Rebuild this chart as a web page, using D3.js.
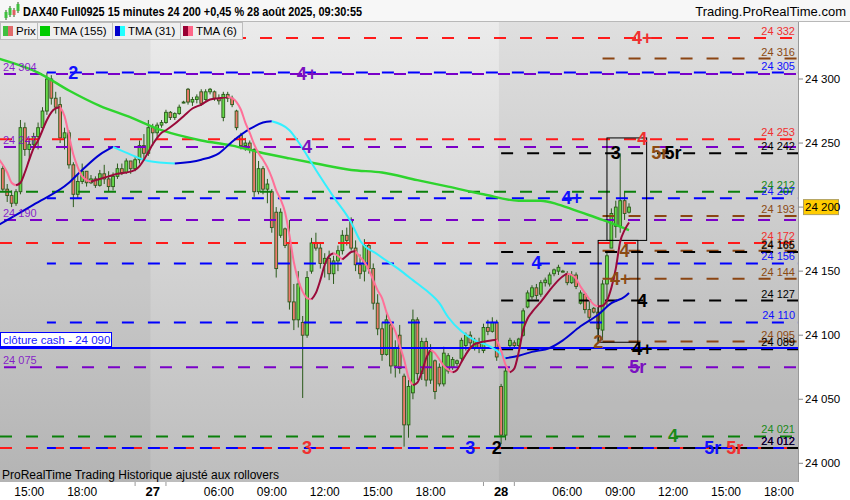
<!DOCTYPE html>
<html><head><meta charset="utf-8">
<script src="https://cdn.jsdelivr.net/npm/d3@7"></script>
<style>
body{margin:0;background:#fff;}
svg{font-family:"Liberation Sans",Arial,sans-serif;}
</style>
</head><body>
<svg id="c" width="850" height="500"></svg>
<script>
// ---------------- DATA ----------------
const sessions = [
  {day: 26, first: "13:30", bars: 34},
  {day: 27, first: "02:15", bars: 79},
  {day: 28, first: "02:15", bars: 30}
];
const openP = [
 24230,24214,24209,24203,24212,24262,24245,24249,24255,24262,24275,24300,24285,24280,24254,24258,24233,24210,24220,24228,24219,24222,24217,24226,24222,24216,24224,24230,24227,24236,24230,24237,24248,24242,
 24262,24258,24264,24266,24274,24270,24273,24282,24292,24282,24284,24290,24284,24290,24290,24285,24270,24288,24285,24275,24256,24248,24250,24245,24212,24230,24214,24212,24196,24178,24183,24172,24126,24112,24110,24100,24150,24172,24168,24156,24160,24148,24158,24166,24178,24190,24168,24155,24150,24170,24152,24125,24105,24085,24108,24076,24100,24068,24030,24055,24112,24070,24095,24065,24080,24075,24062,24072,24075,24078,24082,24092,24100,24090,24094,24088,24106,24103,24110,
 24060,24022,24092,24094,24092,24100,24122,24130,24137,24132,24141,24140,24148,24150,24150,24148,24141,24147,24125,24132,24120,24121,24118,24104,24140,24168,24185,24185,24205,24196];
const highP = [
 24232,24218,24213,24214,24268,24266,24252,24258,24266,24278,24305,24303,24290,24286,24262,24260,24235,24225,24234,24228,24225,24224,24229,24233,24228,24227,24234,24234,24238,24236,24239,24252,24257,24268,
 24265,24266,24268,24276,24275,24274,24280,24283,24293,24286,24288,24292,24292,24293,24291,24288,24290,24290,24287,24276,24258,24254,24252,24246,24236,24232,24222,24214,24200,24199,24184,24190,24140,24150,24115,24150,24176,24180,24172,24164,24166,24162,24170,24182,24184,24192,24174,24163,24175,24172,24156,24132,24110,24118,24109,24096,24108,24070,24065,24120,24114,24098,24098,24093,24081,24078,24091,24086,24083,24081,24098,24102,24103,24098,24098,24109,24112,24114,24112,
 24062,24075,24098,24096,24098,24121,24135,24139,24140,24143,24145,24149,24152,24155,24151,24150,24150,24149,24135,24133,24126,24122,24123,24143,24166,24199,24205,24242,24212,24203];
const lowP = [
 24212,24204,24200,24201,24210,24240,24236,24246,24245,24260,24272,24280,24273,24250,24245,24230,24200,24207,24218,24216,24218,24215,24216,24218,24212,24213,24222,24225,24226,24226,24228,24234,24236,24240,
 24248,24254,24262,24265,24268,24268,24272,24281,24280,24279,24281,24279,24283,24288,24283,24280,24267,24282,24278,24260,24245,24244,24242,24208,24210,24210,24203,24180,24145,24176,24168,24120,24104,24106,24051,24098,24148,24166,24152,24145,24143,24140,24150,24163,24170,24166,24150,24144,24142,24148,24120,24100,24080,24084,24070,24067,24070,24013,24020,24050,24065,24065,24060,24062,24050,24060,24060,24070,24073,24076,24080,24088,24090,24088,24086,24086,24100,24102,24080,
 24015,24018,24090,24090,24091,24099,24121,24128,24128,24130,24138,24138,24146,24147,24149,24139,24140,24136,24124,24117,24110,24117,24095,24096,24122,24168,24176,24180,24190,24195];
const closeP = [
 24214,24209,24203,24212,24262,24245,24249,24255,24262,24275,24300,24285,24278,24254,24258,24233,24210,24220,24228,24219,24222,24217,24226,24222,24216,24224,24230,24227,24236,24230,24237,24248,24242,24262,
 24258,24264,24266,24274,24270,24273,24278,24282,24282,24284,24286,24281,24290,24292,24285,24283,24288,24285,24280,24262,24248,24250,24245,24212,24230,24214,24218,24184,24152,24196,24170,24126,24112,24140,24100,24145,24172,24168,24156,24160,24148,24158,24166,24178,24174,24168,24155,24148,24170,24152,24125,24105,24085,24112,24076,24090,24074,24030,24060,24112,24070,24095,24065,24088,24056,24062,24086,24084,24081,24080,24096,24100,24094,24096,24090,24106,24103,24110,24083,
 24022,24072,24096,24092,24097,24119,24133,24137,24131,24141,24143,24147,24151,24153,24150,24141,24147,24138,24133,24120,24114,24118,24105,24140,24162,24195,24200,24205,24195,24200];

const tma155 = [["26 13:15",24316],["26 15:30",24305],["26 17:15",24291],["26 19:00",24279],["26 20:45",24270],["27 02:45",24260],["27 05:00",24252],["27 06:45",24248],["27 08:15",24243],["27 10:00",24238],["27 11:30",24234],["27 13:30",24229],["27 15:15",24227],["27 17:15",24221],["27 19:00",24216],["27 21:00",24210],["28 03:15",24205],["28 04:30",24205],["28 05:30",24202],["28 06:45",24196],["28 08:00",24190],["28 09:30",24182]];
const tma31 = [["26 13:15",24186],["26 15:15",24202],["26 17:15",24219],["26 18:00",24229],["26 19:00",24241],["26 19:45",24247],["26 20:45",24241],["26 21:45",24236],["27 03:30",24234],["27 05:00",24237],["27 06:00",24242],["27 06:45",24251],["27 07:45",24261],["27 08:30",24266],["27 09:00",24267],["27 10:00",24260],["27 10:30",24251],["27 11:30",24229],["27 12:30",24208],["27 13:30",24188],["27 14:00",24174],["27 15:00",24163],["27 16:15",24151],["27 17:00",24143],["27 17:45",24135],["27 18:30",24125],["27 19:00",24114],["27 19:45",24103],["27 20:30",24096],["27 21:15",24092],["27 21:45",24088],["28 02:30",24082],["28 03:15",24084],["28 04:00",24087],["28 05:00",24090],["28 05:45",24096],["28 06:45",24107],["28 07:45",24116],["28 08:30",24125],["28 09:15",24130],["28 09:30",24133]];
const tma6 = [["26 13:15",24238],["26 13:30",24233],["26 13:45",24227],["26 14:00",24219],["26 14:15",24217],["26 14:30",24219],["26 14:45",24227],["26 15:00",24237],["26 15:15",24246],["26 15:30",24252],["26 15:45",24260],["26 16:00",24268],["26 16:15",24274],["26 16:30",24277],["26 16:45",24278],["26 17:00",24271],["26 17:15",24256],["26 17:30",24241],["26 17:45",24231],["26 18:00",24224],["26 18:15",24221],["26 18:30",24220],["26 18:45",24221],["26 19:00",24222],["26 19:30",24224],["26 20:00",24226],["26 20:30",24227],["26 21:00",24229],["26 21:15",24232],["26 21:30",24237],["26 21:45",24243],["27 02:15",24249],["27 02:30",24254],["27 02:45",24258],["27 03:00",24260],["27 03:30",24265],["27 04:00",24271],["27 04:30",24277],["27 05:00",24280],["27 05:30",24284],["27 06:00",24285],["27 06:30",24286],["27 06:45",24285],["27 07:00",24282],["27 07:15",24276],["27 07:30",24266],["27 07:45",24258],["27 08:00",24249],["27 08:15",24242],["27 08:30",24237],["27 08:45",24231],["27 09:00",24223],["27 09:15",24213],["27 09:30",24206],["27 09:45",24196],["27 10:00",24178],["27 10:15",24157],["27 10:30",24143],["27 10:45",24134],["27 11:00",24129],["27 11:15",24128],["27 11:30",24133],["27 11:45",24143],["27 12:00",24155],["27 12:15",24162],["27 12:30",24164],["27 12:45",24162],["27 13:00",24159],["27 13:15",24162],["27 13:30",24165],["27 13:45",24165.5],["27 14:00",24161],["27 14:15",24157],["27 14:30",24151],["27 14:45",24143],["27 15:00",24135],["27 15:15",24129],["27 15:30",24118],["27 15:45",24110],["27 16:00",24103],["27 16:15",24092],["27 16:30",24081],["27 16:45",24067],["27 17:00",24061],["27 17:15",24063],["27 17:30",24071],["27 17:45",24082],["27 18:00",24088.5],["27 18:15",24086],["27 18:30",24081],["27 18:45",24076],["27 19:00",24073],["27 19:15",24071],["27 19:30",24073],["27 19:45",24079],["27 20:00",24085],["27 20:15",24090],["27 20:30",24093],["27 21:00",24095],["27 21:30",24096],["27 21:45",24096.5],["28 02:15",24088],["28 02:30",24077],["28 02:45",24071],["28 03:00",24074],["28 03:15",24087],["28 03:30",24104],["28 03:45",24113],["28 04:00",24118],["28 04:30",24126],["28 05:00",24135],["28 05:30",24143],["28 05:45",24146],["28 06:00",24148],["28 06:15",24147],["28 06:30",24144],["28 06:45",24138],["28 07:00",24133],["28 07:15",24128],["28 07:30",24124],["28 07:45",24122.5],["28 08:00",24123],["28 08:15",24127],["28 08:30",24137],["28 08:45",24152],["28 09:00",24173],["28 09:15",24182],["28 09:30",24188]];

// pivot level sets (value lists) and when each set begins (null = before chart start)
const redLevels    = [24332, 24253, 24172, 24012];
const purpleLevels = [24304, 24247, 24190, 24075];
const blueLevels   = [24305, 24207, 24156, 24110, 24012];
const greenLevels  = [24212, 24021];
const brownLevels  = [24316, 24193, 24166, 24144, 24095];
const blackLevels  = [24242, 24165, 24127, 24089, 24012];
const levelSets = ["red","purple","blue","green","brown","black"];
const levelStart = {red: null, purple: null, blue: "26 16:00", green: null, brown: "28 08:00", black: "28 02:15"};
const cashClose = 24090;

// level tags: [set, level, text, time]
const tags = [
 ["blue",24305,"2","26 17:30"],["purple",24304,"4+","27 11:00"],["red",24332,"4+","28 10:15"],
 ["purple",24247,"4","27 11:00"],["red",24253,"4","28 10:15"],["black",24242,"3","28 08:45"],
 ["brown",24242,"5r","28 11:15"],["black",24242,"5r","28 12:00"],["blue",24207,"4+","28 06:15"],
 ["brown",24166,"4","28 09:15"],["blue",24156,"4","28 04:15"],["brown",24144,"4+","28 09:00"],
 ["black",24127,"4","28 10:15"],["brown",24095,"2","28 07:45"],["black",24089,"4+","28 10:15"],
 ["purple",24075,"5r","28 10:00"],["green",24021,"4","28 12:00"],["red",24012,"3","27 11:00"],
 ["blue",24012,"3","27 20:15"],["black",24012,"2","27 21:45"],["blue",24012,"5r","28 14:15"],
 ["red",24012,"5r","28 15:30"]
];
const boxes = [
 {from:"28 08:15", to:"28 10:30", hi:24254, lo:24174},
 {from:"28 07:45", to:"28 10:00", hi:24174, lo:24094.5}
];
const yTicks = [24000, 24050, 24100, 24150, 24200, 24250, 24300];
const lastPrice = 24200;
const xTickTimes  = ["26 15:00","26 18:00","27 02:15","27 06:00","27 09:00","27 12:00","27 15:00","27 18:00","28 02:15","28 06:00","28 09:00","28 12:00","28 15:00","28 18:00"];
const xTickLabels = ["15:00","18:00","27","06:00","09:00","12:00","15:00","18:00","28","06:00","09:00","12:00","15:00","18:00"];
const minorTickTimes = ["26 21:00","27 03:00","27 21:00","28 03:00"];

// ---------------- HELPERS ----------------
const toMin = s => { const [h,m] = s.split(":").map(Number); return h*60+m; };
let acc = 0; const sessStart = {};
sessions.forEach(s => { sessStart[s.day] = {offset: acc, first: toMin(s.first), bars: s.bars}; acc += s.bars; });
const barIndex = str => { const [d, hm] = str.split(" "); const s = sessStart[+d]; return s.offset + (toMin(hm) - s.first)/15; };

const bars = openP.map((o,i) => ({i, o, h: highP[i], l: lowP[i], c: closeP[i]}));
const fr = d3.formatLocale({decimal:",", thousands:" ", grouping:[3], currency:["","€"]}).format(",d");

const W = 850, H = 500;
const P = {l: 0, r: 798, t: 22, b: 482};
const x = d3.scaleLinear().domain([-0.635, 180.32]).range([P.l, P.r]);
const y = d3.scaleLinear().domain([24000, 24300]).range([463.3, 79]);

const colors = {red:"#ff1a1a", purple:"#7a00c8", blue:"#0000ff", green:"#0a800a", brown:"#8b4513", black:"#000000"};
const tagColors = {red:"#f03030", purple:"#7a10c0", blue:"#1010ff", green:"#1a8a1a", brown:"#8b4a13", black:"#000000"};
const levelsBySet = {red: redLevels, purple: purpleLevels, blue: blueLevels, green: greenLevels, brown: brownLevels, black: blackLevels};

const svg = d3.select("#c");
const defs = svg.append("defs");
const grad = defs.append("linearGradient").attr("id","bg").attr("x1",0).attr("y1",0).attr("x2",0).attr("y2",1);
grad.append("stop").attr("offset","0%").attr("stop-color","#ebebeb");
grad.append("stop").attr("offset","100%").attr("stop-color","#bdbdbd");
defs.append("clipPath").attr("id","clip").append("rect").attr("x",P.l).attr("y",P.t).attr("width",P.r-P.l).attr("height",P.b-P.t);

// background
svg.append("rect").attr("width",W).attr("height",H).attr("fill","#fff");
svg.append("rect").attr("x",P.l).attr("y",P.t).attr("width",P.r-P.l).attr("height",P.b-P.t).attr("fill","url(#bg)");
const g0 = svg.append("g").attr("clip-path","url(#clip)");
const day27s = x(sessStart[27].offset - 0.5), day28s = x(sessStart[28].offset - 0.5);
g0.append("rect").attr("x",P.l).attr("y",P.t).attr("width",day27s-P.l).attr("height",P.b-P.t).attr("fill","rgba(0,0,0,0.045)");
g0.append("rect").attr("x",day28s).attr("y",P.t).attr("width",P.r-day28s).attr("height",P.b-P.t).attr("fill","rgba(0,0,0,0.05)");

const plot = svg.append("g").attr("clip-path","url(#clip)");

// candles
const cg = plot.append("g");
cg.selectAll("line.w").data(bars).join("line")
  .attr("x1",d=>x(d.i)).attr("x2",d=>x(d.i)).attr("y1",d=>y(d.h)).attr("y2",d=>y(d.l))
  .attr("stroke","#2b5a1b").attr("stroke-width",1);
cg.selectAll("rect.b").data(bars).join("rect")
  .attr("x",d=>x(d.i)-1.4).attr("width",2.8)
  .attr("y",d=>y(Math.max(d.o,d.c))).attr("height",d=>Math.max(1,Math.abs(y(d.o)-y(d.c))))
  .attr("fill",d=>d.c>=d.o?"#66d94a":"#ee7a6c").attr("stroke","#2b5a1b").attr("stroke-width",0.9);

// levels
const lg = plot.append("g");
levelSets.forEach(set => {
  const st = levelStart[set];
  const x0 = st ? x(barIndex(st)) : P.l;
  levelsBySet[set].forEach(v => {
    lg.append("line").attr("x1",x0).attr("x2",P.r).attr("y1",y(v)).attr("y2",y(v))
      .attr("stroke",colors[set]).attr("stroke-width",2).attr("stroke-dasharray","12,14")
      .attr("stroke-dashoffset", set==="purple"? -4 : set==="blue" ? 3 : 0);
  });
});
lg.append("line").attr("x1",P.l).attr("x2",P.r).attr("y1",y(cashClose)).attr("y2",y(cashClose))
  .attr("stroke","#0000ff").attr("stroke-width",2);

// boxes
plot.selectAll("rect.box").data(boxes).join("rect")
  .attr("x",d=>x(barIndex(d.from))).attr("width",d=>x(barIndex(d.to))-x(barIndex(d.from)))
  .attr("y",d=>y(d.hi)).attr("height",d=>y(d.lo)-y(d.hi))
  .attr("fill","none").attr("stroke","#000").attr("stroke-width",1);

// TMA lines, coloured by slope
function drawTrend(pts, upColor, downColor, w) {
  const p = pts.map(([t,v]) => [barIndex(t), v]);
  const runs = []; let cur = [p[0]]; let dir = 0;
  for (let k=1;k<p.length;k++){
    const d = Math.sign(p[k][1]-p[k-1][1]) || dir || 1;
    if (dir !== 0 && d !== dir) { runs.push({dir, pts: cur}); cur = [p[k-1]]; }
    dir = d; cur.push(p[k]);
  }
  runs.push({dir, pts: cur});
  const line = d3.line().x(d=>x(d[0])).y(d=>y(d[1])).curve(d3.curveMonotoneX);
  runs.forEach(r => plot.append("path").attr("d", line(r.pts)).attr("fill","none")
    .attr("stroke", r.dir>0 ? upColor : downColor).attr("stroke-width",w).attr("stroke-linejoin","round"));
}
drawTrend(tma155, "#2ed42e", "#2ed42e", 2.4);
drawTrend(tma31, "#0000d0", "#33f0ff", 2);
drawTrend(tma6, "#9a0a3a", "#ff7098", 2);

// tags
const tg = svg.append("g").attr("clip-path","url(#clip)");
tg.selectAll("text").data(tags).join("text")
  .attr("x",d=>x(barIndex(d[3]))).attr("y",d=>y(d[1]))
  .attr("text-anchor","middle").attr("dominant-baseline","central")
  .attr("font-size",18).attr("font-weight","bold").attr("fill",d=>tagColors[d[0]]).text(d=>d[2]);

// value labels
const vg = svg.append("g");
levelSets.forEach(set => {
  levelsBySet[set].forEach(v => {
    if (set === "purple") {
      vg.append("text").attr("x",3).attr("y",y(v)-3).attr("font-size",11)
        .attr("fill",colors.purple).attr("fill-opacity",0.85).text(fr(v));
    } else {
      vg.append("text").attr("x",795).attr("y",y(v)-3).attr("text-anchor","end").attr("font-size",11)
        .attr("fill",tagColors[set]).text(fr(v));
    }
  });
});
vg.append("rect").attr("x",0.5).attr("y",y(cashClose)-15.5).attr("width",111).attr("height",14)
  .attr("fill","#fff").attr("stroke","#0000ff").attr("stroke-width",1);
vg.append("text").attr("x",3).attr("y",y(cashClose)-4.5).attr("font-size",11.5).attr("fill","#2020ff")
  .text("clôture cash -  " + fr(cashClose));

// right axis
svg.append("line").attr("x1",P.r+0.5).attr("x2",P.r+0.5).attr("y1",P.t).attr("y2",P.b).attr("stroke","#999");
const ya = svg.append("g");
yTicks.forEach(v => {
  ya.append("line").attr("x1",P.r).attr("x2",P.r+5).attr("y1",y(v)).attr("y2",y(v)).attr("stroke","#888");
  ya.append("text").attr("x",805).attr("y",y(v)).attr("dominant-baseline","central").attr("font-size",11.5)
    .attr("fill","#000").text(fr(v));
});
ya.append("rect").attr("x",803.5).attr("y",y(lastPrice)-7.5).attr("width",35).attr("height",15)
  .attr("fill","#ffcc00").attr("stroke","#b0a060");
ya.append("text").attr("x",805).attr("y",y(lastPrice)).attr("dominant-baseline","central").attr("font-size",11.5)
  .attr("fill","#000").text(fr(lastPrice));

// x axis
const xa = svg.append("g");
xTickTimes.forEach((t,k) => {
  const lab = xTickLabels[k]; const isDay = !lab.includes(":");
  xa.append("text").attr("x",x(barIndex(t))).attr("y",496).attr("text-anchor","middle")
    .attr("font-family","'Liberation Sans Narrow','Arial Narrow',sans-serif")
    .attr("font-size", isDay?13:12).attr("font-weight", isDay?"bold":"normal").attr("fill","#000").text(lab);
});
minorTickTimes.forEach(t => {
  xa.append("line").attr("x1",x(barIndex(t))).attr("x2",x(barIndex(t))).attr("y1",P.b).attr("y2",P.b+4).attr("stroke","#999");
});
svg.append("text").attr("x",2).attr("y",479).attr("font-size",12)
  .attr("font-family","'Liberation Sans Narrow','Arial Narrow',sans-serif").attr("fill","#000")
  .text("ProRealTime Trading  Historique ajusté aux rollovers");

// header
svg.append("rect").attr("x",0).attr("y",0).attr("width",W).attr("height",21).attr("fill","#f7f7f7");
svg.append("line").attr("x1",0).attr("x2",W).attr("y1",21.5).attr("y2",21.5).attr("stroke","#b8b8b8");
[[6,12,6,"#3fbf3f"],[10,8,7,"#3fbf3f"],[14,10,5,"#e06060"],[18,4,7,"#3fbf3f"]].forEach(([cx,cy,h,c])=>{
  svg.append("line").attr("x1",cx).attr("x2",cx).attr("y1",cy-2).attr("y2",cy+h+2).attr("stroke","#2b5a1b");
  svg.append("rect").attr("x",cx-1.5).attr("y",cy).attr("width",3).attr("height",h).attr("fill",c);
});
svg.append("text").attr("x",23).attr("y",16).attr("font-size",13).attr("font-weight","bold")
  .attr("textLength",339).attr("lengthAdjust","spacingAndGlyphs")
  .text("DAX40 Full0925 15 minutes 24 200 +0,45 % 28 août 2025, 09:30:55");
svg.append("text").attr("x",846).attr("y",16).attr("text-anchor","end").attr("font-size",13).text("Trading.ProRealTime.com");

// legend tabs
const tabs = [
  {x0:0, x1:37, text:"Prix", c1:"#3fbf3f", c2:"#e06a6a"},
  {x0:37, x1:112, text:"TMA (155)", c1:"#00cc00", c2:"#00cc00"},
  {x0:112, x1:180, text:"TMA (31)", c1:"#0000cc", c2:"#22ffff"},
  {x0:180, x1:242, text:"TMA (6)", c1:"#990033", c2:"#ff6688"}
];
tabs.forEach(t => {
  svg.append("rect").attr("x",t.x0+0.5).attr("y",22.5).attr("width",t.x1-t.x0).attr("height",17)
    .attr("fill","#efefef").attr("stroke","#bdbdbd");
  svg.append("rect").attr("x",t.x0+3).attr("y",26).attr("width",5).attr("height",10).attr("fill",t.c1);
  svg.append("rect").attr("x",t.x0+8).attr("y",26).attr("width",5).attr("height",10).attr("fill",t.c2);
  svg.append("text").attr("x",t.x0+16).attr("y",35).attr("font-size",11.5).attr("fill","#000").text(t.text);
});
</script>
</body></html>
